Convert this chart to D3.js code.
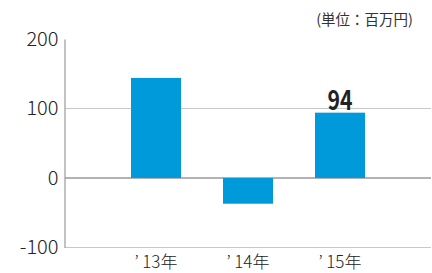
<!DOCTYPE html>
<html>
<head>
<meta charset="utf-8">
<script src="https://cdn.jsdelivr.net/npm/d3@7"></script>
<style>
  body { margin: 0; background: #fff; }
  text { font-family: "Noto Sans CJK JP", "Noto Sans", sans-serif; }
</style>
</head>
<body>
<div id="chart"></div>
<script>
// yearly figures, in millions of yen
var years = ["’\u200913年", "’\u200914年", "’\u200915年"]
var values = [144, -37, 94]
var yTicks = [-100, 0, 100, 200]
var labelIndex = 2
var labelText = "94"

var width = 432
var height = 273

var svg = d3.select("#chart")
    .append("svg")
    .attr("width", width)
    .attr("height", height);

// x: bar centres
var x = d3.scalePoint()
    .domain(years)
    .range([156, 340])
var barWidth = 50

// y scale
var y = d3.scaleLinear()
    .domain([-100, 200])
    .range([247.5, 39])

// gridlines
svg.append("g")
    .selectAll("line")
    .data(yTicks.filter(d => d !== 200))
    .join("line")
    .attr("x1", 65)
    .attr("x2", 431)
    .attr("y1", d => y(d))
    .attr("y2", d => y(d))
    .attr("stroke", d => d === 0 ? "#9a9a9a" : "#c8c8c8")
    .attr("stroke-width", d => d === 0 ? 1.5 : 1.2);

// bars
svg.append("g")
    .attr("fill", "#0099d9")
    .selectAll("rect")
    .data(years)
    .join("rect")
    .attr("x", (d) => x(d) - barWidth / 2)
    .attr("width", barWidth)
    .attr("y", (d, i) => y(Math.max(0, values[i])))
    .attr("height", (d, i) => Math.abs(y(values[i]) - y(0)));

// y axis
var yAxis = g => g
    .attr("transform", "translate(64.5,0)")
    .call(d3.axisLeft(y).tickValues(yTicks).tickFormat(d => String(d)).tickSize(0).tickPadding(6))
    .call(g => g.select(".domain").attr("stroke", "#999").attr("stroke-width", 1.2))
    .call(g => g.selectAll(".tick text")
        .attr("font-family", "'Noto Sans', sans-serif")
        .attr("font-weight", 300)
        .attr("font-size", 20)
        .attr("fill", "#222"))

svg.append("g").call(yAxis);

// x labels
svg.append("g")
    .selectAll("text")
    .data(years)
    .join("text")
    .attr("x", d => x(d))
    .attr("y", 268)
    .attr("text-anchor", "middle")
    .attr("font-size", 17)
    .attr("font-weight", 300)
    .attr("fill", "#222")
    .text(d => d);

// value label above the '15 bar
svg.append("text")
    .attr("x", x(years[labelIndex]))
    .attr("y", y(values[labelIndex]) - 3)
    .attr("text-anchor", "middle")
    .attr("font-family", "'Liberation Sans', sans-serif")
    .attr("font-weight", "bold")
    .attr("font-size", 27)
    .attr("textLength", 25)
    .attr("lengthAdjust", "spacingAndGlyphs")
    .attr("fill", "#222")
    .text(labelText);

// unit
svg.append("text")
    .attr("x", 413)
    .attr("y", 25)
    .attr("text-anchor", "end")
    .attr("font-size", 14.5)
    .attr("fill", "#333")
    .text("(単位：百万円)");
</script>
</body>
</html>
